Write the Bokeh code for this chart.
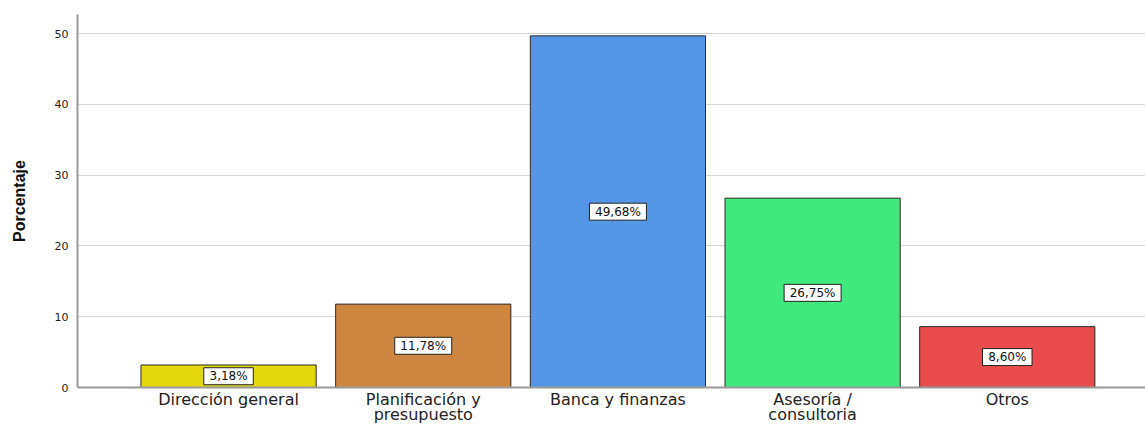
from bokeh.plotting import figure
from bokeh.models import ColumnDataSource, Range1d, FixedTicker
from bokeh.core.properties import value
from bokeh.embed import file_html
from bokeh.resources import INLINE

categories = ["Dirección general", "Planificación y\npresupuesto", "Banca y finanzas",
              "Asesoría /\nconsultoria", "Otros"]
values = [3.18, 11.78, 49.68, 26.75, 8.60]
colors = ["#E2D80E", "#CD8542", "#5597E6", "#41E97C", "#E94C4C"]
y_ticks = [0, 10, 20, 30, 40, 50]

xs = list(range(len(categories)))
labels = [("%.2f%%" % v).replace(".", ",") for v in values]
box_w = [7.5 * len(s) + 12 for s in labels]
src = ColumnDataSource(dict(x=xs, top=values, color=colors, mid=[v / 2 for v in values],
                            lab=labels, bw=box_w))

p = figure(width=1145, height=426, output_backend="svg", toolbar_location=None,
           x_range=Range1d(-0.776, 4.71), y_range=Range1d(0, 52.7),
           min_border_left=77, min_border_right=0, min_border_top=14, min_border_bottom=37)
p.outline_line_color = None
p.vbar(x="x", top="top", width=0.9, bottom=0, source=src, fill_color="color",
       line_color="#2a2a2a", line_width=1)

p.rect(x="x", y="mid", width="bw", height=17, width_units="screen", height_units="screen",
       source=src, fill_color="white", line_color="#222222", line_width=1)
p.text(x="x", y="mid", text="lab", source=src, text_align="center", text_baseline="middle",
       text_font=value("DejaVu Sans"), text_font_size="12px", text_color="#111111")

p.xaxis.ticker = FixedTicker(ticks=xs)
p.xaxis.major_label_overrides = {i: c for i, c in zip(xs, categories)}
p.xaxis.major_label_text_font = "DejaVu Sans"
p.xaxis.major_label_text_font_size = "16px"
p.xaxis.major_label_text_line_height = 0.8
p.xaxis.major_label_text_color = "#222222"
p.xaxis.major_label_standoff = 2
p.xaxis.major_tick_out = 0
p.xaxis.major_tick_in = 0
p.xaxis.major_tick_line_color = None
p.xaxis.minor_tick_line_color = None
p.xaxis.axis_line_color = "#999999"
p.xaxis.axis_line_width = 2

p.yaxis.ticker = FixedTicker(ticks=y_ticks)
p.yaxis.major_label_text_font = "DejaVu Sans"
p.yaxis.major_label_text_font_size = "11px"
p.yaxis.major_label_text_color = "#222222"
p.yaxis.major_label_standoff = 9
p.yaxis.major_tick_out = 0
p.yaxis.major_tick_in = 0
p.yaxis.major_tick_line_color = None
p.yaxis.minor_tick_line_color = None
p.yaxis.axis_line_color = "#999999"
p.yaxis.axis_line_width = 2
p.yaxis.axis_label = "Porcentaje"
p.yaxis.axis_label_text_font = "Liberation Sans"
p.yaxis.axis_label_text_font_style = "bold"
p.yaxis.axis_label_text_font_size = "16px"
p.yaxis.axis_label_text_color = "#111111"
p.yaxis.axis_label_standoff = 24

p.xgrid.grid_line_color = None
p.ygrid.grid_line_color = "#D6D6D6"
p.ygrid.grid_line_width = 1

open("out.html", "w").write(file_html(p, INLINE))
